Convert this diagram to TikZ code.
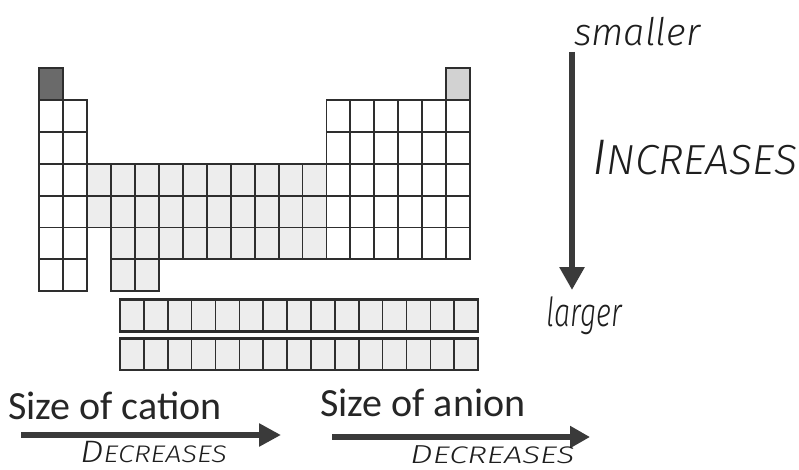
\documentclass[tikz,border=0pt]{standalone}
\usepackage{fontspec}
\setmainfont{Carlito}
\newfontfamily\hand{Fira Sans}[UprightFont=* Light, ItalicFont=* Light Italic]
\usetikzlibrary{arrows.meta}
\definecolor{lineclr}{HTML}{2E2E2E}
\definecolor{tmfill}{HTML}{EDEDED}
\definecolor{hfill}{HTML}{6A6A6A}
\definecolor{hefill}{HTML}{D2D2D2}
\definecolor{arrowclr}{HTML}{3A3A3A}
\definecolor{inkclr}{HTML}{1E1E1E}
\newcommand\pcell[3]{\path[#3] ({39.3+(#1-1)*23.93},{68.3+(#2-1)*31.83}) rectangle ++(23.93,31.83);}
\begin{document}
\begin{tikzpicture}[x=1pt,y=-1pt,
  cell/.style={draw=lineclr,line width=1.8pt,fill=white},
  tmcell/.style={cell,fill=tmfill},
  fcell/.style={draw=lineclr,line width=1.6pt,fill=tmfill},
  fframe/.style={draw=lineclr,line width=2.6pt},
  bigarrow/.style={draw=arrowclr,line width=6pt,-{Triangle[length=22pt,width=22pt]}},
  printed/.style={font=\fontsize{40}{46}\selectfont,inner sep=0pt,text=black!85},
  ink/.style={font=\hand\itshape,inner sep=0pt,text=inkclr}]
\useasboundingbox[fill=white] (0,0) rectangle (799,470);
% s-block
\foreach \r in {2,...,7}{\foreach \c in {1,2}{\pcell{\c}{\r}{cell}}}
% p-block
\foreach \r in {2,...,6}{\foreach \c in {13,...,18}{\pcell{\c}{\r}{cell}}}
% d-block
\foreach \r in {4,5}{\foreach \c in {3,...,12}{\pcell{\c}{\r}{tmcell}}}
\foreach \c in {4,...,12}{\pcell{\c}{6}{tmcell}}
\foreach \c in {4,5}{\pcell{\c}{7}{tmcell}}
% H and He
\pcell{1}{1}{cell,fill=hfill}
\pcell{18}{1}{cell,fill=hefill}
% f-block
\foreach \c in {0,...,14}{
  \path[fcell] ({120+\c*23.87},299.3) rectangle ++(23.87,32.4);
  \path[fcell] ({120+\c*23.87},338.3) rectangle ++(23.87,31.7);}
\path[fframe] (120,299.3) rectangle (478,331.7);
\path[fframe] (120,338.3) rectangle (478,370);
% vertical arrow
\node[ink,anchor=base west,font=\hand\itshape\fontsize{38}{44}\selectfont] (sm) at (574,46) {smaller};
\node[ink,anchor=base west,font=\hand\itshape\fontsize{40}{44}\selectfont] (lg) at (546,326) {\scalebox{0.72}[1]{larger}};
\node[ink,anchor=base west] (inc) at (592,175) {\scalebox{1.02}[1]{{\fontsize{50}{56}\selectfont I}{\fontsize{42}{46}\selectfont NCREASES}}};
\coordinate (vs) at (572,52);
\coordinate (ve) at (572,290);
\draw[bigarrow,-{Triangle[length=23pt,width=24pt]}] (vs) -- (ve);
% bottom
\node[printed,anchor=base west] (cat) at (8,419) {Size of cation};
\node[printed,anchor=base west] (an) at (320,416) {Size of anion};
\coordinate (c1s) at (21,435);
\coordinate (c1e) at (281,435);
\draw[bigarrow] (c1s) -- (c1e);
\coordinate (c2s) at (332,437);
\coordinate (c2e) at (590,437);
\draw[bigarrow,-{Triangle[length=20pt,width=21pt]}] (c2s) -- (c2e);
\node[ink,anchor=base west] (dec1) at (80,462) {\scalebox{1.2}[1]{{\fontsize{31}{36}\selectfont D}{\fontsize{24}{30}\selectfont ECREASES}}};
\node[ink,anchor=base west] (dec2) at (410,463) {\scalebox{1.38}[1]{{\fontsize{26}{32}\selectfont D}{\fontsize{24}{30}\selectfont ECREASES}}};
\end{tikzpicture}
\end{document}
